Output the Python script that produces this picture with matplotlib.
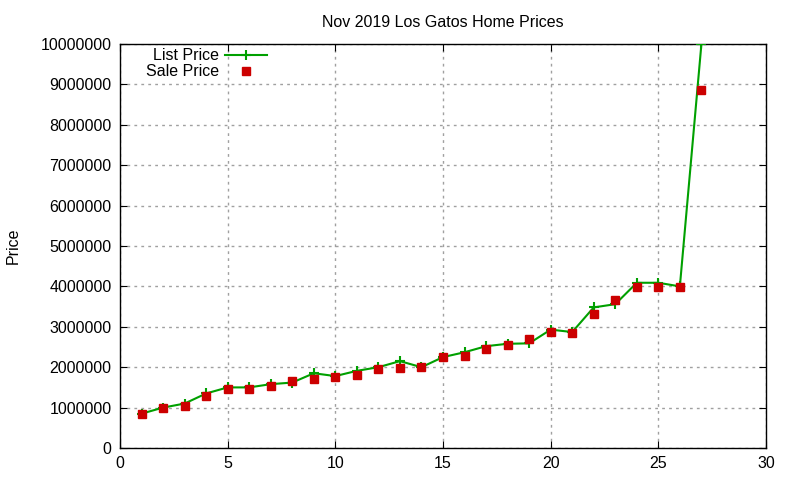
import matplotlib
matplotlib.use("Agg")
import matplotlib.pyplot as plt
from matplotlib.ticker import MultipleLocator, FuncFormatter

plt.rcParams['font.family'] = ['Liberation Sans', 'DejaVu Sans']

homes = list(range(1, 28))
list_price = [850000, 1000000, 1100000, 1350000, 1500000, 1500000, 1580000, 1620000,
              1850000, 1780000, 1910000, 2000000, 2150000, 2000000, 2250000, 2370000,
              2520000, 2580000, 2590000, 2930000, 2870000, 3480000, 3560000, 4090000,
              4090000, 4000000, 9995000]
sale_price = [830000, 990000, 1050000, 1280000, 1460000, 1470000, 1540000, 1670000,
              1700000, 1750000, 1810000, 1960000, 1980000, 2000000, 2260000, 2270000,
              2460000, 2550000, 2690000, 2860000, 2850000, 3320000, 3670000, 3980000,
              3990000, 3980000, 8850000]

title = "Nov 2019 Los Gatos Home Prices"
ylabel = "Price"

fig = plt.figure(figsize=(8, 4.8), dpi=100)
ax = fig.add_axes([120/800, 1-448/480, (766-120)/800, (448-44)/480])

green = '#00a000'
red = '#cc0000'
ax.plot(homes, list_price, color=green, lw=1.5, marker='+', ms=7, mew=1.5,
        label='List Price', zorder=3)
ax.plot(homes, sale_price, color=red, lw=0, marker='s', ms=6,
        label='Sale Price', zorder=4)

ax.set_xlim(0, 30)
ax.set_ylim(0, 10000000)
ax.xaxis.set_major_locator(MultipleLocator(5))
ax.yaxis.set_major_locator(MultipleLocator(1000000))
ax.yaxis.set_major_formatter(FuncFormatter(lambda v, p: f"{int(round(v))}"))
ax.grid(True, color='#a0a0a0', linestyle=(0, (2, 3)), lw=1)
ax.tick_params(direction='in', top=True, right=True, length=5, labelsize=11.5, pad=6)
for s in ax.spines.values():
    s.set_linewidth(1)
    s.set_color('black')

ax.set_title(title, fontsize=11.5, pad=12)
ax.set_ylabel(ylabel, fontsize=11.5, labelpad=14)

leg = ax.legend(loc='upper left', frameon=False, markerfirst=False, fontsize=11.5,
                handlelength=2.6, borderaxespad=0.0, bbox_to_anchor=(0.03, 1.005),
                labelspacing=0.05, handletextpad=0.4)
for t in leg.get_texts():
    t.set_ha('right')

fig.savefig("out.png", dpi=100)
